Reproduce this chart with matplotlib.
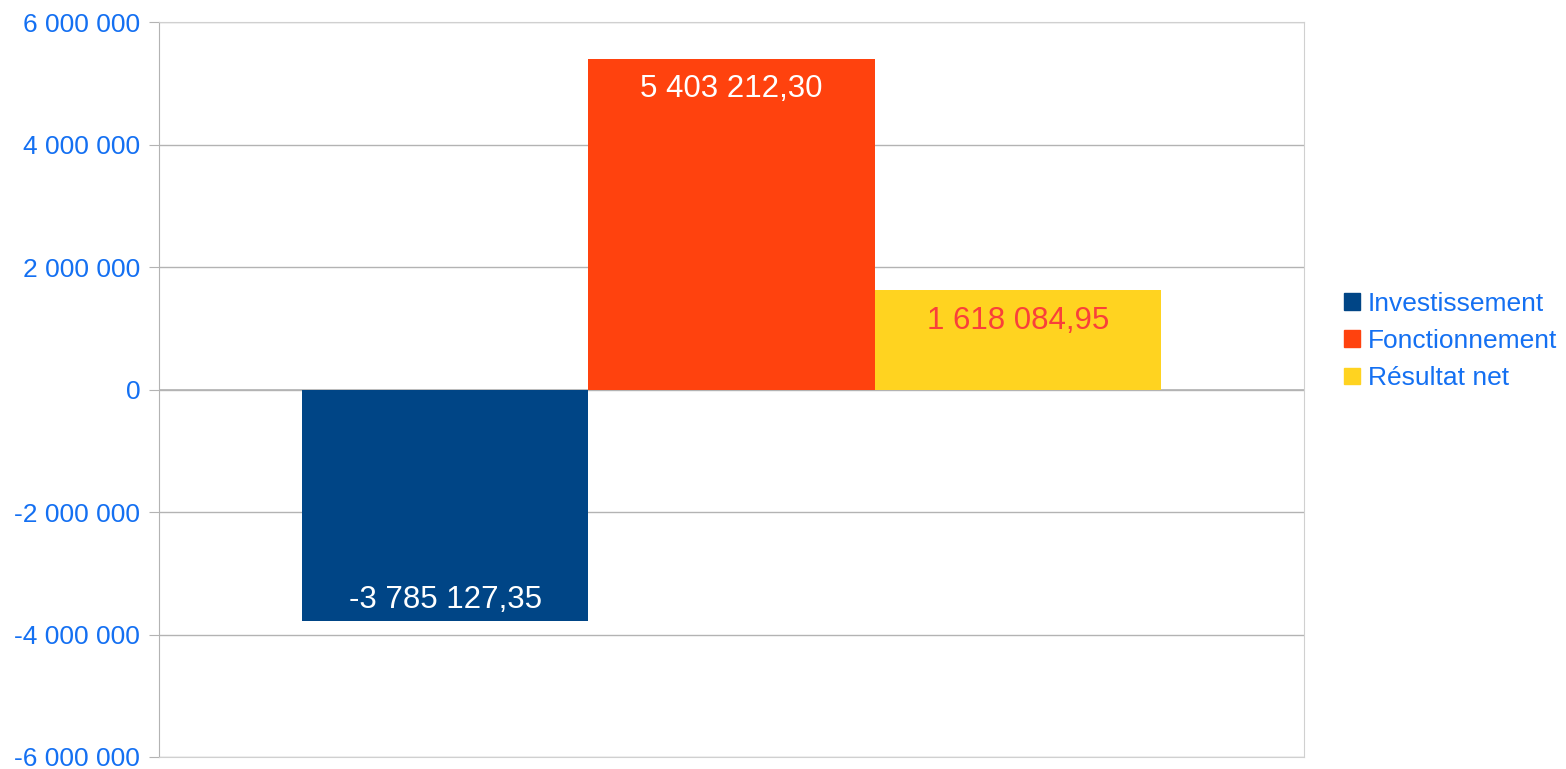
import matplotlib.pyplot as plt
from matplotlib.patches import Patch
from matplotlib.ticker import FuncFormatter

plt.rcParams['font.family'] = ['Liberation Sans', 'DejaVu Sans']

series = ['Investissement', 'Fonctionnement', 'Résultat net']
values = [-3785127.35, 5403212.30, 1618084.95]
colors = ['#004586', '#ff420e', '#ffd320']
label_colors = ['white', 'white', '#f9403a']
yticks = [-6000000, -4000000, -2000000, 0, 2000000, 4000000, 6000000]

blue = '#1470f2'
grid = '#b3b3b3'


def fr_num(v, decimals=0):
    s = f"{abs(v):,.{decimals}f}".replace(',', ' ').replace('.', ',')
    return ('-' if v < 0 else '') + s


fig = plt.figure(figsize=(15.66, 7.69), dpi=100)
ax = fig.add_axes([159/1566, 1 - 757/769, (1304-159)/1566, (757-22)/769])

pos = [-1, 0, 1]
bars = ax.bar(pos, values, width=1.0, color=colors, zorder=2)

for b, v, c in zip(bars, values, label_colors):
    x = b.get_x() + b.get_width()/2
    off = -22 if v > 0 else 15.5
    ax.annotate(fr_num(v, 2), (x, v), xytext=(0, off), textcoords='offset points',
                ha='center', va='center', fontsize=22.5, color=c, zorder=3)

ax.set_xlim(-2, 2)
ax.set_ylim(-6000000, 6000000)
ax.set_yticks(yticks)
ax.yaxis.set_major_formatter(FuncFormatter(lambda v, p: fr_num(v)))
ax.set_xticks([])
ax.tick_params(axis='y', length=7, color=grid, labelcolor=blue, labelsize=19, pad=6.5)
ax.grid(axis='y', color=grid, linewidth=1, zorder=0)
ax.axhline(0, color=grid, linewidth=1.2, zorder=1)
for s in ax.spines.values():
    s.set_color('#d0d0d0')
ax.spines['left'].set_color(grid)

handles = [Patch(color=c) for c in colors]
fig.legend(handles, series, loc='center left', bbox_to_anchor=(1344/1566, 1 - 341/769),
           frameon=False, fontsize=19, labelcolor=blue, handlelength=0.6, handleheight=0.6,
           handletextpad=0.3, labelspacing=0.5, borderpad=0, borderaxespad=0)

fig.savefig('out.png', dpi=100)
